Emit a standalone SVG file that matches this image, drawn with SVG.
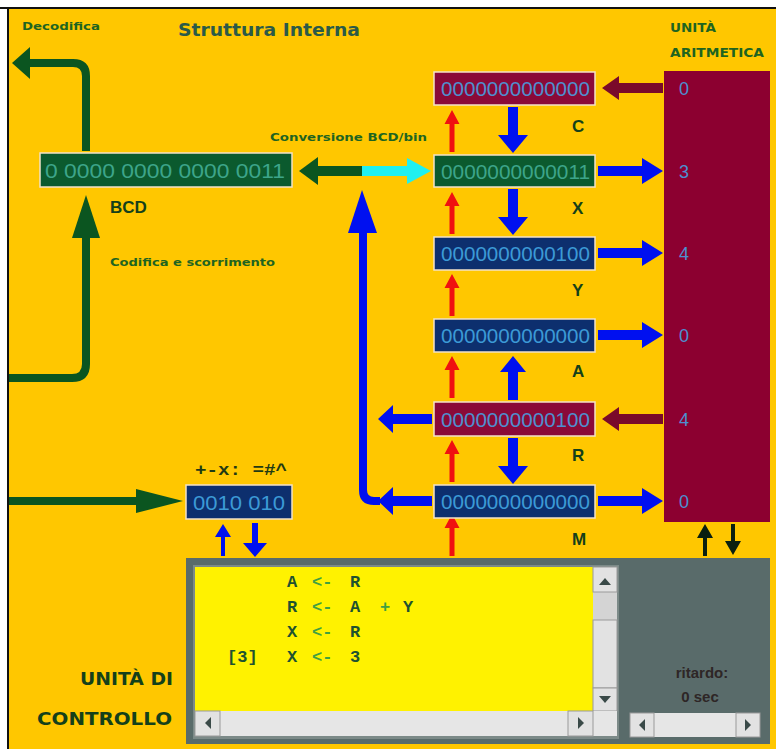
<svg xmlns="http://www.w3.org/2000/svg" xmlns:xlink="http://www.w3.org/1999/xlink" width="776" height="749" viewBox="0 0 776 749">
<style>
.lbl{font-family:"DejaVu Sans","Liberation Sans",sans-serif;font-weight:bold;fill:#1E6420}
.reg{font-family:"Liberation Sans",Arial,sans-serif;font-size:21px}
.name{font-family:"Liberation Sans",Arial,sans-serif;font-weight:bold;font-size:17px;fill:#14401A}
.big{font-family:"DejaVu Sans","Liberation Sans",sans-serif;font-weight:bold;font-size:17px;fill:#14401A}
.val{font-family:"Liberation Sans",Arial,sans-serif;font-size:18px;fill:#4C8FD0}
.code{font-family:"Liberation Mono","Courier New",monospace;font-weight:bold;font-size:17px;fill:#1E5230}
.op{fill:#40A040}
.blue{fill:#0010F0}
.red{fill:#F01010}
.mar{fill:#7A0A2A}
.grn{fill:#0B5520}
.gline{fill:none;stroke:#0B5520;stroke-width:8}
.bbox{stroke:#F3E2C8;stroke-width:1.5}
.btn{fill:#E2E2E2;stroke:#9A9A9A;stroke-width:1}
.tri{fill:#3A4A48}
</style>
<defs>
<path id="aR" d="M0,-5 H44 V-13 L65,0 L44,13 V5 H0 Z"/>
<path id="aD" d="M-5,0 V28 H-15 L0,46 L15,28 H5 V0 Z"/>
<path id="aU" d="M-5,0 V-28 H-13 L0,-44 L13,-28 H5 V0 Z"/>
<path id="aL" d="M0,-5 H-39 V-14 L-54,0 L-39,14 V5 H0 Z"/>
<path id="rU" d="M-2.5,0 V-28 H-7.5 L0,-42 L7.5,-28 H2.5 V0 Z"/>
<path id="mL" d="M0,-5 H-44 V-12 L-61,0 L-44,12 V5 H0 Z"/>
</defs>
<rect width="776" height="749" fill="#FFFFFF"/>
<rect x="8" y="8" width="768" height="741" fill="#FFC700"/>
<line x1="0" y1="8" x2="776" y2="8" stroke="#111" stroke-width="2"/>
<line x1="8" y1="8" x2="8" y2="749" stroke="#111" stroke-width="2"/>

<text class="lbl" x="22" y="30" font-size="11" textLength="78" lengthAdjust="spacingAndGlyphs">Decodifica</text>
<text x="178" y="36" font-family="DejaVu Sans,Liberation Sans,sans-serif" font-weight="bold" font-size="17" fill="#2B5A48" textLength="182" lengthAdjust="spacingAndGlyphs">Struttura Interna</text>
<text class="lbl" x="270" y="141" font-size="11" textLength="157" lengthAdjust="spacingAndGlyphs">Conversione BCD/bin</text>
<text class="lbl" x="110" y="266" font-size="11" textLength="165" lengthAdjust="spacingAndGlyphs">Codifica e scorrimento</text>
<text class="name" x="110" y="213" font-size="16">BCD</text>
<text class="lbl" x="670" y="32" font-size="12" textLength="46" lengthAdjust="spacingAndGlyphs">UNITÀ</text>
<text class="lbl" x="670" y="57" font-size="12" textLength="94" lengthAdjust="spacingAndGlyphs">ARITMETICA</text>
<text x="195" y="475" font-family="Liberation Mono,monospace" font-weight="bold" font-size="16" fill="#1E3A14" textLength="92" lengthAdjust="spacingAndGlyphs">+-x: =#^</text>

<g id="connectors">
<path class="gline" d="M86,151 V76 Q86,63 73,63 H28"/>
<polygon class="grn" points="30,47 12,63 30,79"/>
<path class="gline" d="M9,378 H72 Q86,378 86,364 V236"/>
<polygon class="grn" points="72,238 86,195 100,238"/>
<path class="gline" d="M9,501 H140"/>
<polygon class="grn" points="136,489 183,501 136,513"/>
<rect class="grn" x="316" y="166" width="48" height="10"/>
<polygon class="grn" points="318,157 299,171 318,185"/>
<rect x="362" y="166" width="46" height="10" fill="#20F0F0"/>
<polygon points="407,158 431,171 407,184" fill="#20F0F0"/>
<path d="M380,501 H374 Q363,501 363,490 V230" fill="none" stroke="#0010F0" stroke-width="8"/>
<polygon class="blue" points="348,233 362,190 377,233"/>
<use href="#aL" class="blue" x="432" y="501"/>
<use href="#aL" class="blue" x="432" y="419"/>
<use href="#aR" class="blue" x="598" y="171"/>
<use href="#aR" class="blue" x="598" y="253"/>
<use href="#aR" class="blue" x="598" y="335"/>
<use href="#aR" class="blue" x="598" y="501"/>
<use href="#mL" class="mar" x="663" y="88"/>
<use href="#mL" class="mar" x="663" y="419"/>
<use href="#aD" class="blue" x="513" y="107"/>
<use href="#aD" class="blue" x="513" y="189"/>
<use href="#aD" class="blue" x="513" y="438"/>
<use href="#aU" class="blue" x="513" y="400"/>
<use href="#rU" class="red" x="452" y="152"/>
<use href="#rU" class="red" x="452" y="234"/>
<use href="#rU" class="red" x="452" y="316"/>
<use href="#rU" class="red" x="452" y="398"/>
<use href="#rU" class="red" x="452" y="482"/>
<use href="#rU" class="red" x="452" y="556"/>
<path class="blue" d="M221,556 V537 H215 L223,524 L231,537 H225 V556 Z"/>
<path class="blue" d="M252,523 V543 H243 L255,557 L267,543 H258 V523 Z"/>
<path d="M703,556 V538 H697 L705,524 L713,538 H707 V556 Z" fill="#0A2010"/>
<path d="M731,524 V541 H725 L733,555 L741,541 H735 V524 Z" fill="#0A2010"/>
</g>

<g id="bcd">
<rect class="bbox" x="40" y="153" width="252" height="34" fill="#0B5A2E"/>
<text class="reg" x="45" y="178" fill="#3DA58A" textLength="240" lengthAdjust="spacingAndGlyphs">0 0000 0000 0000 0011</text>
</g>
<g id="reg-C">
<rect class="bbox" x="434" y="72" width="161" height="33" fill="#8A0A38"/>
<text class="reg" x="441" y="96" fill="#4F8FCF" textLength="149" lengthAdjust="spacingAndGlyphs">0000000000000</text>
<text class="name" x="572" y="132">C</text>
</g>
<g id="reg-X">
<rect class="bbox" x="434" y="155" width="161" height="32" fill="#0B5A2E"/>
<text class="reg" x="441" y="179" fill="#3DA58A" textLength="149" lengthAdjust="spacingAndGlyphs">0000000000011</text>
<text class="name" x="572" y="214">X</text>
</g>
<g id="reg-Y">
<rect class="bbox" x="434" y="237" width="161" height="33" fill="#0D2F6E"/>
<text class="reg" x="441" y="261" fill="#3C9AD6" textLength="149" lengthAdjust="spacingAndGlyphs">0000000000100</text>
<text class="name" x="572" y="296">Y</text>
</g>
<g id="reg-A">
<rect class="bbox" x="434" y="319" width="161" height="33" fill="#0D2F6E"/>
<text class="reg" x="441" y="343" fill="#3C9AD6" textLength="149" lengthAdjust="spacingAndGlyphs">0000000000000</text>
<text class="name" x="572" y="377">A</text>
</g>
<g id="reg-R">
<rect class="bbox" x="434" y="402" width="161" height="34" fill="#8A0A38"/>
<text class="reg" x="441" y="427" fill="#4F8FCF" textLength="149" lengthAdjust="spacingAndGlyphs">0000000000100</text>
<text class="name" x="572" y="461">R</text>
</g>
<g id="reg-M">
<rect class="bbox" x="434" y="485" width="161" height="33" fill="#0D2F6E"/>
<text class="reg" x="441" y="509" fill="#3C9AD6" textLength="149" lengthAdjust="spacingAndGlyphs">0000000000000</text>
<text class="name" x="572" y="545">M</text>
</g>
<g id="alu">
<rect x="664" y="71" width="106" height="451" fill="#8C0030"/>
<text class="val" x="679" y="95">0</text>
<text class="val" x="679" y="178">3</text>
<text class="val" x="679" y="260">4</text>
<text class="val" x="679" y="342">0</text>
<text class="val" x="679" y="426">4</text>
<text class="val" x="679" y="508">0</text>
</g>
<g id="op-reg">
<rect class="bbox" x="186" y="485" width="106" height="34" fill="#0D2F6E"/>
<text class="reg" x="193" y="510" fill="#3C9AD6" textLength="92" lengthAdjust="spacingAndGlyphs">0010 010</text>
</g>
<g id="control">
<text class="big" x="80" y="685" textLength="93" lengthAdjust="spacingAndGlyphs">UNITÀ DI</text>
<text class="big" x="37" y="725" textLength="135" lengthAdjust="spacingAndGlyphs">CONTROLLO</text>
<rect x="186" y="558" width="584" height="186" fill="#596B6A"/>
<rect x="193" y="565" width="426" height="174" fill="#7C8A88"/>
<rect x="195" y="567" width="398" height="144" fill="#FFF200"/>
<rect x="593" y="567" width="24" height="144" fill="#D4D4D4"/>
<rect class="btn" x="593" y="567" width="24" height="25"/>
<polygon class="tri" points="599,585 605,578 611,585"/>
<rect class="btn" x="593" y="620" width="24" height="68"/>
<rect class="btn" x="593" y="688" width="24" height="23"/>
<polygon class="tri" points="599,696 605,703 611,696"/>
<rect x="195" y="711" width="422" height="25" fill="#E6E6E6"/>
<rect class="btn" x="195" y="711" width="25" height="25"/>
<polygon class="tri" points="211,717 205,723 211,729"/>
<rect class="btn" x="568" y="711" width="25" height="25"/>
<polygon class="tri" points="578,717 584,723 578,729"/>
<text class="code" x="287" y="587">A <tspan class="op" x="312">&lt;-</tspan> <tspan x="350">R</tspan></text>
<text class="code" x="287" y="612">R <tspan class="op" x="312">&lt;-</tspan> <tspan x="350">A</tspan> <tspan class="op" x="380">+</tspan> <tspan x="403">Y</tspan></text>
<text class="code" x="287" y="637">X <tspan class="op" x="312">&lt;-</tspan> <tspan x="350">R</tspan></text>
<text class="code" x="227" y="662">[3] <tspan x="287">X</tspan> <tspan class="op" x="312">&lt;-</tspan> <tspan x="350">3</tspan></text>
<text x="702" y="678" text-anchor="middle" font-family="Liberation Sans,Arial,sans-serif" font-weight="bold" font-size="15" fill="#2E2626">ritardo:</text>
<text x="700" y="702" text-anchor="middle" font-family="Liberation Sans,Arial,sans-serif" font-weight="bold" font-size="15" fill="#2E2626">0  sec</text>
<rect x="630" y="713" width="130" height="24" fill="#E6E6E6"/>
<rect class="btn" x="630" y="713" width="24" height="24"/>
<polygon class="tri" points="645,719 639,725 645,731"/>
<rect class="btn" x="736" y="713" width="24" height="24"/>
<polygon class="tri" points="745,719 751,725 745,731"/>
</g>
</svg>
